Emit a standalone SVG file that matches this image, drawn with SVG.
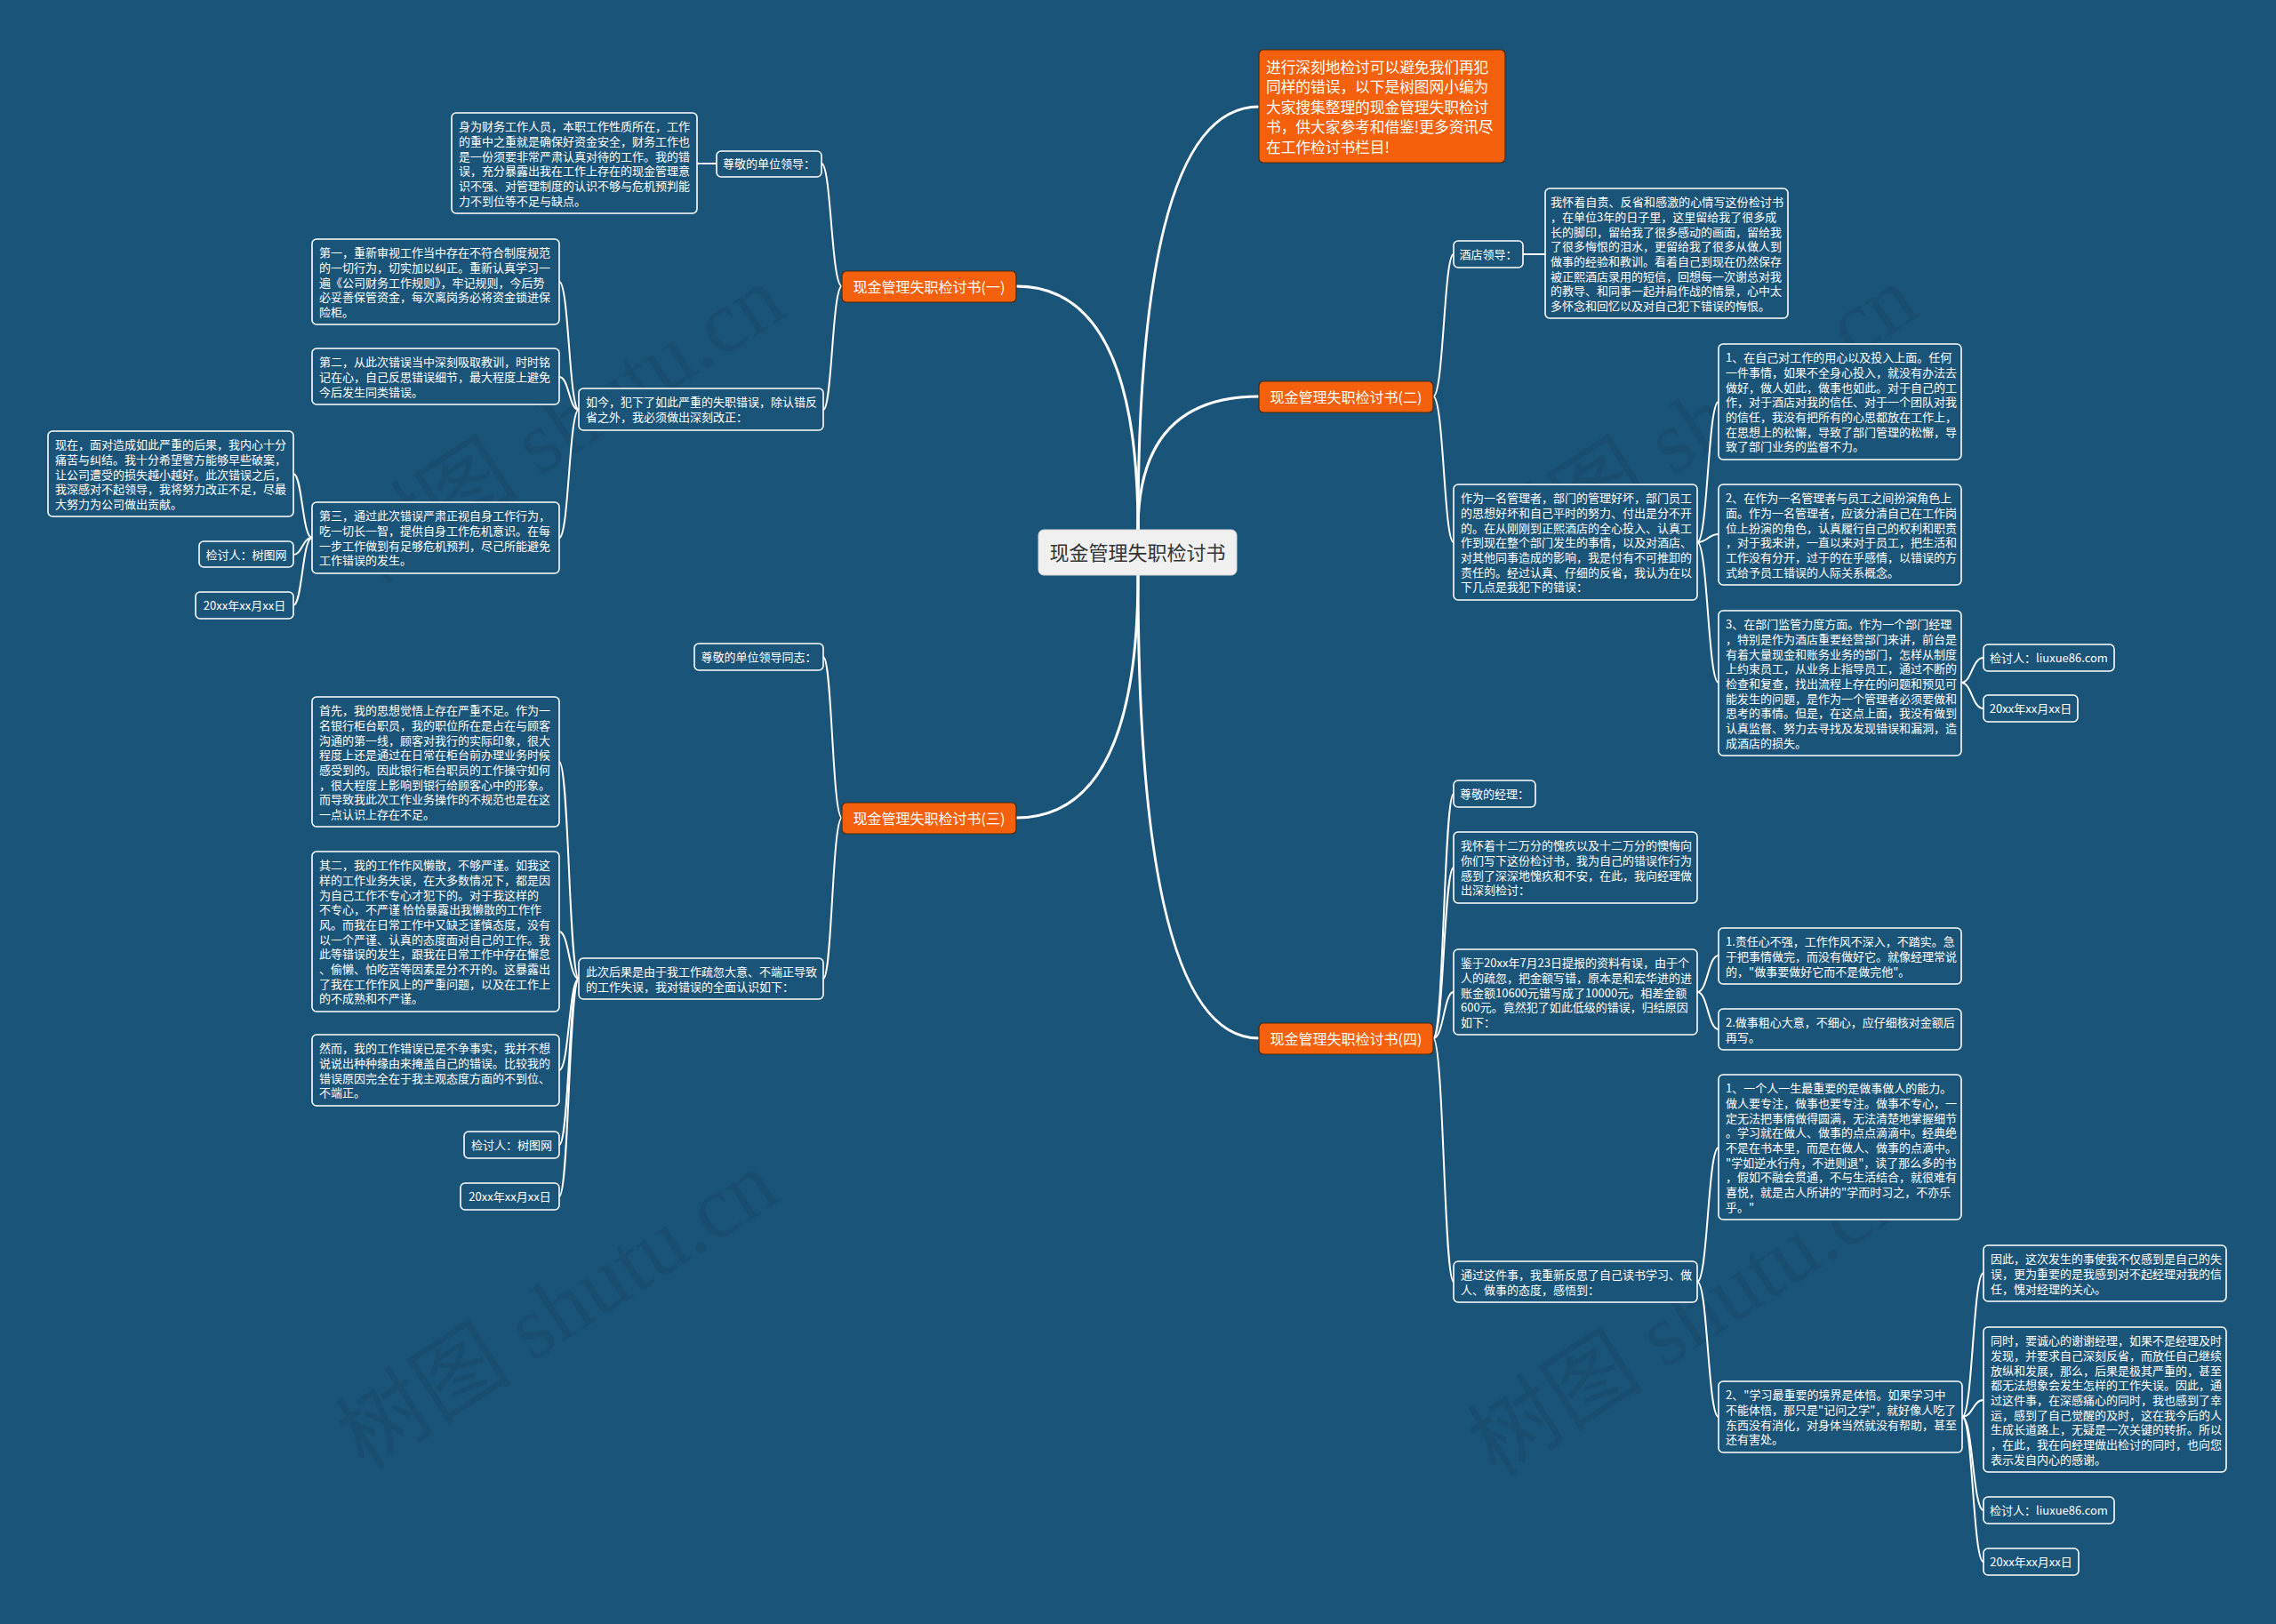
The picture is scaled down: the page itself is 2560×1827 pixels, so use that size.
<svg xmlns="http://www.w3.org/2000/svg" width="2560" height="1827" viewBox="0 0 2560 1827">
<defs>
<style>
.bg{fill:#1b5479}
.leaf{fill:#1b5479;stroke:#ffffff;stroke-width:1.6}
.br{fill:#f4600c;stroke:#4a2a10;stroke-width:1.2}
.t{font-family:"Noto Sans CJK SC","Microsoft YaHei",sans-serif;font-size:13px;fill:#ffffff}
.tc{font-family:"Noto Sans CJK SC","Microsoft YaHei",sans-serif;font-size:13px;fill:#ffffff;text-anchor:middle}
.tb{font-family:"Noto Sans CJK SC","Microsoft YaHei",sans-serif;font-size:16px;fill:#ffffff;text-anchor:middle}
.ti{font-family:"Noto Sans CJK SC","Microsoft YaHei",sans-serif;font-size:16.7px;fill:#ffffff}
.main{fill:none;stroke:#ffffff;stroke-width:3;stroke-linecap:round}
.sub{fill:none;stroke:#ffffff;stroke-width:2;stroke-linecap:round}
.wm{font-family:"Liberation Serif","Noto Sans CJK SC",serif;font-size:100px;fill:#000000;fill-opacity:0.07}
</style>
</defs>
<rect class="bg" x="0" y="0" width="2560" height="1827"/>

<g id="watermarks">
<text class="wm" transform="translate(653,506) rotate(-33)" text-anchor="middle">树图 shutu.cn</text>
<text class="wm" transform="translate(1927,506) rotate(-33)" text-anchor="middle">树图 shutu.cn</text>
<text class="wm" transform="translate(645,1502) rotate(-33)" text-anchor="middle">树图 shutu.cn</text>
<text class="wm" transform="translate(1918,1510) rotate(-33)" text-anchor="middle">树图 shutu.cn</text>
</g>

<g id="connectors">
<path class="main" d="M1280,596 Q1280,120 1416,120"/>
<path class="main" d="M1280,596 Q1280,446 1416,446"/>
<path class="main" d="M1280,596 Q1280,322 1143,322"/>
<path class="main" d="M1280,647 Q1280,920 1143,920"/>
<path class="main" d="M1280,647 Q1280,1168 1416,1168"/>

<path class="sub" d="M947,322 C935,322 935,184 924,184"/>
<path class="sub" d="M947,322 C936,322 936,461 926,461"/>
<path class="sub" d="M806,184 L784,184"/>
<path class="sub" d="M651,461 C640,461 640,317 629,317"/>
<path class="sub" d="M651,461 C640,461 640,424 629,424"/>
<path class="sub" d="M651,461 C640,461 640,605 629,605"/>
<path class="sub" d="M351,605 C340,605 340,533 330,533"/>
<path class="sub" d="M351,605 C340,605 340,624 330,624"/>
<path class="sub" d="M351,605 C340,605 340,681 330,681"/>

<path class="sub" d="M947,920 C936,920 936,739 926,739"/>
<path class="sub" d="M947,920 C936,920 936,1101 926,1101"/>
<path class="sub" d="M651,1101 C640,1101 640,857 629,857"/>
<path class="sub" d="M651,1101 C640,1101 640,1048 629,1048"/>
<path class="sub" d="M651,1101 C640,1101 640,1204 629,1204"/>
<path class="sub" d="M651,1101 C640,1101 640,1288 629,1288"/>
<path class="sub" d="M651,1101 C640,1101 640,1346 629,1346"/>

<path class="sub" d="M1612,446 C1624,446 1624,286 1635,286"/>
<path class="sub" d="M1612,446 C1624,446 1624,610 1635,610"/>
<path class="sub" d="M1713,286 L1738,286"/>
<path class="sub" d="M1909,610 C1921,610 1921,452 1933,452"/>
<path class="sub" d="M1909,610 C1921,610 1921,601 1933,601"/>
<path class="sub" d="M1909,610 C1921,610 1921,768 1933,768"/>
<path class="sub" d="M2206,768 C2218,768 2218,740 2231,740"/>
<path class="sub" d="M2206,768 C2218,768 2218,797 2231,797"/>

<path class="sub" d="M1612,1168 C1624,1168 1624,893 1635,893"/>
<path class="sub" d="M1612,1168 C1624,1168 1624,976 1635,976"/>
<path class="sub" d="M1612,1168 C1624,1168 1624,1116 1635,1116"/>
<path class="sub" d="M1612,1168 C1624,1168 1624,1442 1635,1442"/>
<path class="sub" d="M1909,1116 C1921,1116 1921,1075 1933,1075"/>
<path class="sub" d="M1909,1116 C1921,1116 1921,1158 1933,1158"/>
<path class="sub" d="M1909,1442 C1921,1442 1921,1291 1933,1291"/>
<path class="sub" d="M1909,1442 C1921,1442 1921,1594 1933,1594"/>
<path class="sub" d="M2207,1594 C2219,1594 2219,1432 2231,1432"/>
<path class="sub" d="M2207,1594 C2219,1594 2219,1575 2231,1575"/>
<path class="sub" d="M2207,1594 C2219,1594 2219,1699 2231,1699"/>
<path class="sub" d="M2207,1594 C2219,1594 2219,1757 2231,1757"/>
</g>

<g id="center">
<rect x="1168" y="596" width="223" height="51" rx="6" fill="#f0f0f0" stroke="#d8d8d8" stroke-width="1"/>
<text x="1279.5" y="630" text-anchor="middle" font-family="Noto Sans CJK SC, sans-serif" font-size="22" fill="#333333">现金管理失职检讨书</text>
</g>

<g id="intro">
<rect class="br" x="1416" y="56" width="277" height="127" rx="5"/>
<text class="ti"><tspan x="1424" y="82">进行深刻地检讨可以避免我们再犯</tspan><tspan x="1424" y="104">同样的错误，以下是树图网小编为</tspan><tspan x="1424" y="127">大家搜集整理的现金管理失职检讨</tspan><tspan x="1424" y="149">书，供大家参考和借鉴!更多资讯尽</tspan><tspan x="1424" y="172">在工作检讨书栏目!</tspan></text>
</g>

<!-- Branch 1 -->
<g id="b1">
<rect class="br" x="947" y="305" width="196" height="35" rx="5"/>
<text class="tb" x="1045" y="328.5">现金管理失职检讨书(一)</text>
</g>
<g id="b1-greet">
<rect class="leaf" x="806" y="170" width="118" height="29" rx="5"/>
<text class="tc" x="865" y="189">尊敬的单位领导：</text>
</g>
<g id="b1-intro">
<rect class="leaf" x="508" y="127" width="276" height="113" rx="5"/>
<text class="t"><tspan x="516" y="147">身为财务工作人员，本职工作性质所在，工作</tspan><tspan x="516" y="164">的重中之重就是确保好资金安全，财务工作也</tspan><tspan x="516" y="181">是一份须要非常严肃认真对待的工作。我的错</tspan><tspan x="516" y="197">误，充分暴露出我在工作上存在的现金管理意</tspan><tspan x="516" y="214">识不强、对管理制度的认识不够与危机预判能</tspan><tspan x="516" y="231">力不到位等不足与缺点。</tspan></text>
</g>
<g id="b1-now">
<rect class="leaf" x="651" y="437" width="275" height="47" rx="5"/>
<text class="t"><tspan x="659" y="457">如今，犯下了如此严重的失职错误，除认错反</tspan><tspan x="659" y="474">省之外，我必须做出深刻改正：</tspan></text>
</g>
<g id="b1-first">
<rect class="leaf" x="351" y="269" width="278" height="96" rx="5"/>
<text class="t"><tspan x="359" y="289">第一，重新审视工作当中存在不符合制度规范</tspan><tspan x="359" y="306">的一切行为，切实加以纠正。重新认真学习一</tspan><tspan x="359" y="323">遍《公司财务工作规则》，牢记规则，今后势</tspan><tspan x="359" y="339">必妥善保管资金，每次离岗务必将资金锁进保</tspan><tspan x="359" y="356">险柜。</tspan></text>
</g>
<g id="b1-second">
<rect class="leaf" x="351" y="392" width="278" height="63" rx="5"/>
<text class="t"><tspan x="359" y="412">第二，从此次错误当中深刻吸取教训，时时铭</tspan><tspan x="359" y="429">记在心，自己反思错误细节，最大程度上避免</tspan><tspan x="359" y="446">今后发生同类错误。</tspan></text>
</g>
<g id="b1-third">
<rect class="leaf" x="351" y="565" width="278" height="80" rx="5"/>
<text class="t"><tspan x="359" y="585">第三，通过此次错误严肃正视自身工作行为，</tspan><tspan x="359" y="602">吃一切长一智，提供自身工作危机意识。在每</tspan><tspan x="359" y="619">一步工作做到有足够危机预判，尽己所能避免</tspan><tspan x="359" y="635">工作错误的发生。</tspan></text>
</g>
<g id="b1-present">
<rect class="leaf" x="54" y="485" width="276" height="96" rx="5"/>
<text class="t"><tspan x="62" y="505">现在，面对造成如此严重的后果，我内心十分</tspan><tspan x="62" y="522">痛苦与纠结。我十分希望警方能够早些破案，</tspan><tspan x="62" y="539">让公司遭受的损失越小越好。此次错误之后，</tspan><tspan x="62" y="555">我深感对不起领导，我将努力改正不足，尽最</tspan><tspan x="62" y="572">大努力为公司做出贡献。</tspan></text>
</g>
<g id="b1-sign">
<rect class="leaf" x="224" y="609" width="106" height="29" rx="5"/>
<text class="tc" x="277" y="628.5">检讨人：树图网</text>
</g>
<g id="b1-date">
<rect class="leaf" x="220" y="666" width="110" height="30" rx="5"/>
<text class="tc" x="275" y="685.5">20xx年xx月xx日</text>
</g>

<!-- Branch 3 -->
<g id="b3">
<rect class="br" x="947" y="903" width="196" height="35" rx="5"/>
<text class="tb" x="1045" y="926.5">现金管理失职检讨书(三)</text>
</g>
<g id="b3-greet">
<rect class="leaf" x="781" y="724" width="145" height="30" rx="5"/>
<text class="tc" x="853.5" y="744">尊敬的单位领导同志：</text>
</g>
<g id="b3-cause">
<rect class="leaf" x="651" y="1078" width="275" height="46" rx="5"/>
<text class="t"><tspan x="659" y="1098">此次后果是由于我工作疏忽大意、不端正导致</tspan><tspan x="659" y="1115">的工作失误，我对错误的全面认识如下：</tspan></text>
</g>
<g id="b3-first">
<rect class="leaf" x="351" y="784" width="278" height="146" rx="5"/>
<text class="t"><tspan x="359" y="804">首先，我的思想觉悟上存在严重不足。作为一</tspan><tspan x="359" y="821">名银行柜台职员，我的职位所在是占在与顾客</tspan><tspan x="359" y="838">沟通的第一线，顾客对我行的实际印象，很大</tspan><tspan x="359" y="854">程度上还是通过在日常在柜台前办理业务时候</tspan><tspan x="359" y="871">感受到的。因此银行柜台职员的工作操守如何</tspan><tspan x="359" y="888">，很大程度上影响到银行给顾客心中的形象。</tspan><tspan x="359" y="904">而导致我此次工作业务操作的不规范也是在这</tspan><tspan x="359" y="921">一点认识上存在不足。</tspan></text>
</g>
<g id="b3-second">
<rect class="leaf" x="351" y="958" width="278" height="180" rx="5"/>
<text class="t"><tspan x="359" y="978">其二，我的工作作风懒散，不够严谨。如我这</tspan><tspan x="359" y="995">样的工作业务失误，在大多数情况下，都是因</tspan><tspan x="359" y="1012">为自己工作不专心才犯下的。对于我这样的</tspan><tspan x="359" y="1028">不专心，不严谨 恰恰暴露出我懒散的工作作</tspan><tspan x="359" y="1045">风。而我在日常工作中又缺乏谨慎态度，没有</tspan><tspan x="359" y="1062">以一个严谨、认真的态度面对自己的工作。我</tspan><tspan x="359" y="1078">此等错误的发生，跟我在日常工作中存在懈怠</tspan><tspan x="359" y="1095">、偷懒、怕吃苦等因素是分不开的。这暴露出</tspan><tspan x="359" y="1112">了我在工作作风上的严重问题，以及在工作上</tspan><tspan x="359" y="1128">的不成熟和不严谨。</tspan></text>
</g>
<g id="b3-however">
<rect class="leaf" x="351" y="1164" width="278" height="80" rx="5"/>
<text class="t"><tspan x="359" y="1184">然而，我的工作错误已是不争事实，我并不想</tspan><tspan x="359" y="1201">说说出种种缘由来掩盖自己的错误。比较我的</tspan><tspan x="359" y="1218">错误原因完全在于我主观态度方面的不到位、</tspan><tspan x="359" y="1234">不端正。</tspan></text>
</g>
<g id="b3-sign">
<rect class="leaf" x="522" y="1273" width="107" height="30" rx="5"/>
<text class="tc" x="575.5" y="1293">检讨人：树图网</text>
</g>
<g id="b3-date">
<rect class="leaf" x="518" y="1331" width="111" height="30" rx="5"/>
<text class="tc" x="573.5" y="1351">20xx年xx月xx日</text>
</g>

<!-- Branch 2 -->
<g id="b2">
<rect class="br" x="1416" y="429" width="196" height="35" rx="5"/>
<text class="tb" x="1514" y="452.5">现金管理失职检讨书(二)</text>
</g>
<g id="b2-greet">
<rect class="leaf" x="1635" y="271" width="78" height="30" rx="5"/>
<text class="tc" x="1674" y="291">酒店领导：</text>
</g>
<g id="b2-intro">
<rect class="leaf" x="1738" y="212" width="273" height="146" rx="5"/>
<text class="t"><tspan x="1744" y="232" textLength="262" lengthAdjust="spacingAndGlyphs">我怀着自责、反省和感激的心情写这份检讨书</tspan><tspan x="1744" y="249">，在单位3年的日子里，这里留给我了很多成</tspan><tspan x="1744" y="266">长的脚印，留给我了很多感动的画面，留给我</tspan><tspan x="1744" y="282">了很多悔恨的泪水，更留给我了很多从做人到</tspan><tspan x="1744" y="299">做事的经验和教训。看着自己到现在仍然保存</tspan><tspan x="1744" y="316">被正熙酒店录用的短信，回想每一次谢总对我</tspan><tspan x="1744" y="332">的教导、和同事一起并肩作战的情景，心中太</tspan><tspan x="1744" y="349">多怀念和回忆以及对自己犯下错误的悔恨。</tspan></text>
</g>
<g id="b2-manager">
<rect class="leaf" x="1635" y="545" width="274" height="130" rx="5"/>
<text class="t"><tspan x="1643" y="565">作为一名管理者，部门的管理好坏，部门员工</tspan><tspan x="1643" y="582">的思想好坏和自己平时的努力、付出是分不开</tspan><tspan x="1643" y="599">的。在从刚刚到正熙酒店的全心投入、认真工</tspan><tspan x="1643" y="615">作到现在整个部门发生的事情，以及对酒店、</tspan><tspan x="1643" y="632">对其他同事造成的影响，我是付有不可推卸的</tspan><tspan x="1643" y="649">责任的。经过认真、仔细的反省，我认为在以</tspan><tspan x="1643" y="665">下几点是我犯下的错误：</tspan></text>
</g>
<g id="b2-p1">
<rect class="leaf" x="1933" y="387" width="273" height="130" rx="5"/>
<text class="t"><tspan x="1941" y="407">1、在自己对工作的用心以及投入上面。任何</tspan><tspan x="1941" y="424">一件事情，如果不全身心投入，就没有办法去</tspan><tspan x="1941" y="441">做好，做人如此，做事也如此。对于自己的工</tspan><tspan x="1941" y="457">作，对于酒店对我的信任、对于一个团队对我</tspan><tspan x="1941" y="474">的信任，我没有把所有的心思都放在工作上，</tspan><tspan x="1941" y="491">在思想上的松懈，导致了部门管理的松懈，导</tspan><tspan x="1941" y="507">致了部门业务的监督不力。</tspan></text>
</g>
<g id="b2-p2">
<rect class="leaf" x="1933" y="545" width="273" height="113" rx="5"/>
<text class="t"><tspan x="1941" y="565">2、在作为一名管理者与员工之间扮演角色上</tspan><tspan x="1941" y="582">面。作为一名管理者，应该分清自己在工作岗</tspan><tspan x="1941" y="599">位上扮演的角色，认真履行自己的权利和职责</tspan><tspan x="1941" y="615">，对于我来讲，一直以来对于员工，把生活和</tspan><tspan x="1941" y="632">工作没有分开，过于的在乎感情，以错误的方</tspan><tspan x="1941" y="649">式给予员工错误的人际关系概念。</tspan></text>
</g>
<g id="b2-p3">
<rect class="leaf" x="1933" y="687" width="273" height="163" rx="5"/>
<text class="t"><tspan x="1941" y="707">3、在部门监管力度方面。作为一个部门经理</tspan><tspan x="1941" y="724">，特别是作为酒店重要经营部门来讲，前台是</tspan><tspan x="1941" y="741">有着大量现金和账务业务的部门，怎样从制度</tspan><tspan x="1941" y="757">上约束员工，从业务上指导员工，通过不断的</tspan><tspan x="1941" y="774">检查和复查，找出流程上存在的问题和预见可</tspan><tspan x="1941" y="791">能发生的问题，是作为一个管理者必须要做和</tspan><tspan x="1941" y="807">思考的事情。但是，在这点上面，我没有做到</tspan><tspan x="1941" y="824">认真监督、努力去寻找及发现错误和漏洞，造</tspan><tspan x="1941" y="841">成酒店的损失。</tspan></text>
</g>
<g id="b2-sign">
<rect class="leaf" x="2231" y="725" width="147" height="30" rx="5"/>
<text class="tc" x="2304.5" y="745">检讨人：liuxue86.com</text>
</g>
<g id="b2-date">
<rect class="leaf" x="2231" y="782" width="106" height="30" rx="5"/>
<text class="tc" x="2284" y="802">20xx年xx月xx日</text>
</g>

<!-- Branch 4 -->
<g id="b4">
<rect class="br" x="1416" y="1151" width="196" height="35" rx="5"/>
<text class="tb" x="1514" y="1174.5">现金管理失职检讨书(四)</text>
</g>
<g id="b4-greet">
<rect class="leaf" x="1635" y="878" width="92" height="30" rx="5"/>
<text class="tc" x="1681" y="898">尊敬的经理：</text>
</g>
<g id="b4-intro">
<rect class="leaf" x="1635" y="936" width="274" height="80" rx="5"/>
<text class="t"><tspan x="1643" y="956">我怀着十二万分的愧疚以及十二万分的懊悔向</tspan><tspan x="1643" y="973">你们写下这份检讨书，我为自己的错误作行为</tspan><tspan x="1643" y="990">感到了深深地愧疚和不安，在此，我向经理做</tspan><tspan x="1643" y="1006">出深刻检讨：</tspan></text>
</g>
<g id="b4-fact">
<rect class="leaf" x="1635" y="1068" width="274" height="96" rx="5"/>
<text class="t"><tspan x="1643" y="1088">鉴于20xx年7月23日提报的资料有误，由于个</tspan><tspan x="1643" y="1105">人的疏忽，把金额写错，原本是和宏华进的进</tspan><tspan x="1643" y="1122">账金额10600元错写成了10000元。相差金额</tspan><tspan x="1643" y="1138">600元。竟然犯了如此低级的错误，归结原因</tspan><tspan x="1643" y="1155">如下：</tspan></text>
</g>
<g id="b4-r1">
<rect class="leaf" x="1933" y="1044" width="273" height="63" rx="5"/>
<text class="t"><tspan x="1941" y="1064">1.责任心不强，工作作风不深入，不踏实。急</tspan><tspan x="1941" y="1081">于把事情做完，而没有做好它。就像经理常说</tspan><tspan x="1941" y="1098">的，"做事要做好它而不是做完他"。</tspan></text>
</g>
<g id="b4-r2">
<rect class="leaf" x="1933" y="1135" width="273" height="46" rx="5"/>
<text class="t"><tspan x="1941" y="1155">2.做事粗心大意，不细心，应仔细核对金额后</tspan><tspan x="1941" y="1172">再写。</tspan></text>
</g>
<g id="b4-reflect">
<rect class="leaf" x="1635" y="1419" width="274" height="46" rx="5"/>
<text class="t"><tspan x="1643" y="1439">通过这件事，我重新反思了自己读书学习、做</tspan><tspan x="1643" y="1456">人、做事的态度，感悟到：</tspan></text>
</g>
<g id="b4-l1">
<rect class="leaf" x="1933" y="1209" width="273" height="163" rx="5"/>
<text class="t"><tspan x="1941" y="1229">1、一个人一生最重要的是做事做人的能力。</tspan><tspan x="1941" y="1246">做人要专注，做事也要专注。做事不专心，一</tspan><tspan x="1941" y="1263">定无法把事情做得圆满，无法清楚地掌握细节</tspan><tspan x="1941" y="1279">。学习就在做人、做事的点点滴滴中。经典绝</tspan><tspan x="1941" y="1296">不是在书本里，而是在做人、做事的点滴中。</tspan><tspan x="1941" y="1313">"学如逆水行舟，不进则退"，读了那么多的书</tspan><tspan x="1941" y="1329">，假如不融会贯通，不与生活结合，就很难有</tspan><tspan x="1941" y="1346">喜悦，就是古人所讲的"学而时习之，不亦乐</tspan><tspan x="1941" y="1363">乎。"</tspan></text>
</g>
<g id="b4-l2">
<rect class="leaf" x="1933" y="1554" width="274" height="80" rx="5"/>
<text class="t"><tspan x="1941" y="1574">2、"学习最重要的境界是体悟。如果学习中</tspan><tspan x="1941" y="1591">不能体悟，那只是"记问之学"，就好像人吃了</tspan><tspan x="1941" y="1608">东西没有消化，对身体当然就没有帮助，甚至</tspan><tspan x="1941" y="1624">还有害处。</tspan></text>
</g>
<g id="b4-so">
<rect class="leaf" x="2231" y="1401" width="273" height="63" rx="5"/>
<text class="t"><tspan x="2239" y="1421">因此，这次发生的事使我不仅感到是自己的失</tspan><tspan x="2239" y="1438">误，更为重要的是我感到对不起经理对我的信</tspan><tspan x="2239" y="1455">任，愧对经理的关心。</tspan></text>
</g>
<g id="b4-thanks">
<rect class="leaf" x="2231" y="1493" width="273" height="163" rx="5"/>
<text class="t"><tspan x="2239" y="1513">同时，要诚心的谢谢经理，如果不是经理及时</tspan><tspan x="2239" y="1530">发现，并要求自己深刻反省，而放任自己继续</tspan><tspan x="2239" y="1547">放纵和发展，那么，后果是极其严重的，甚至</tspan><tspan x="2239" y="1563">都无法想象会发生怎样的工作失误。因此，通</tspan><tspan x="2239" y="1580">过这件事，在深感痛心的同时，我也感到了幸</tspan><tspan x="2239" y="1597">运，感到了自己觉醒的及时，这在我今后的人</tspan><tspan x="2239" y="1613">生成长道路上，无疑是一次关键的转折。所以</tspan><tspan x="2239" y="1630">，在此，我在向经理做出检讨的同时，也向您</tspan><tspan x="2239" y="1647">表示发自内心的感谢。</tspan></text>
</g>
<g id="b4-sign">
<rect class="leaf" x="2231" y="1684" width="147" height="30" rx="5"/>
<text class="tc" x="2304.5" y="1704">检讨人：liuxue86.com</text>
</g>
<g id="b4-date">
<rect class="leaf" x="2231" y="1742" width="107" height="30" rx="5"/>
<text class="tc" x="2284.5" y="1762">20xx年xx月xx日</text>
</g>
</svg>
